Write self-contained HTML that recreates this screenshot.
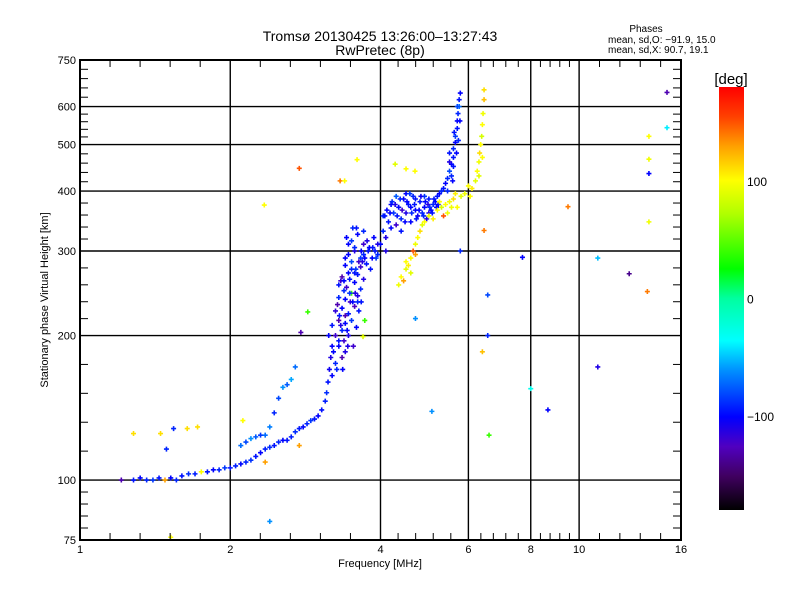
<!DOCTYPE html>
<html><head><meta charset="utf-8"><style>
html,body{margin:0;padding:0;background:#fff;}
svg text{font-family:"Liberation Sans",sans-serif;fill:#000;}
</style></head><body>
<svg id="chart" width="800" height="600" viewBox="0 0 800 600" xmlns="http://www.w3.org/2000/svg">
<defs>
<linearGradient id="cmap" x1="0" y1="1" x2="0" y2="0">
<stop offset="0" stop-color="#000000"/><stop offset="0.08" stop-color="#400060"/><stop offset="0.15" stop-color="#5000c0"/><stop offset="0.22" stop-color="#0000ff"/><stop offset="0.33" stop-color="#0090ff"/><stop offset="0.40" stop-color="#00ffff"/><stop offset="0.50" stop-color="#00ffa0"/><stop offset="0.57" stop-color="#00ff00"/><stop offset="0.70" stop-color="#b0ff00"/><stop offset="0.78" stop-color="#ffff00"/><stop offset="0.86" stop-color="#ffa000"/><stop offset="0.93" stop-color="#ff4000"/><stop offset="1" stop-color="#ff0000"/>
</linearGradient>
<clipPath id="plotclip"><rect x="80" y="60" width="601" height="480"/></clipPath>
</defs>
<g id="grid"></g>
<g id="marks" clip-path="url(#plotclip)"></g>
<g id="axes"></g>
<text x="380" y="41" font-size="14" text-anchor="middle">Tromsø 20130425 13:26:00–13:27:43</text>
<text x="380" y="55" font-size="14" text-anchor="middle">RwPretec (8p)</text>
<text x="646" y="32" font-size="10" text-anchor="middle">Phases</text>
<text x="608" y="43" font-size="10">mean, sd,O: −91.9, 15.0</text>
<text x="608" y="53" font-size="10">mean, sd,X:  90.7, 19.1</text>
<text x="380" y="567" font-size="11" text-anchor="middle">Frequency [MHz]</text>
<text x="48" y="300" font-size="11" text-anchor="middle" transform="rotate(-90 48 300)">Stationary phase Virtual Height [km]</text>
<rect x="719" y="87" width="25" height="423" fill="url(#cmap)"/>
<text x="731" y="84" font-size="15" text-anchor="middle">[deg]</text>
<g id="cbticks"></g>
</svg>
<script>
const xMajor=[1,2,4,6,8,10,16];
const xLabels=["1","2","4","6","8","10","16"];
const yMajor=[75,100,200,300,400,500,600,750];
const yLabels=["75","100","200","300","400","500","600","750"];
const cbValues=[100,0,-100];
const cbLabels=["100","0","−100"];

// Trace A: low E/F trace
const aFreq=[1.28,1.32,1.36,1.4,1.44,1.48,1.52,1.56,1.6,1.65,1.7,1.75,1.8,1.85,1.9,1.95,2.0,2.05,2.1,2.15,2.2,2.25,2.3,2.35,2.4,2.45,2.5,2.55,2.6,2.65,2.7,2.75,2.8,2.85,2.9,2.95,3.0,3.05,3.1,3.12,3.14,3.16,3.18,3.2];
const aHeight=[100,101,100,100,101,100,101,100,102,103,103,104,104,105,105,106,106,107,108,109,110,112,114,116,117,118,120,121,121,123,126,128,129,131,133,134,136,140,146,152,160,170,180,190];
const aPhase=[-95,-100,-90,-85,-95,130,-100,-90,-95,-88,-92,100,-95,-100,-90,-85,-95,-92,-98,-90,-86,-95,-100,-92,-88,-95,-90,-100,-95,-92,-88,-94,-98,-90,-85,-95,-100,-96,-92,-88,-95,-105,-110,-100];
// Trace B: upper branch
const bFreq=[2.1,2.15,2.2,2.25,2.3,2.35,2.4,2.45,2.5,2.55,2.6,2.65,2.7];
const bHeight=[118,120,122,123,124,124,129,138,148,156,158,162,172];
const bPhase=[-70,-80,-60,-75,-85,-70,-65,-90,-80,-60,-75,-55,-70];
// Cloud C
const cFreq=[3.15,3.25,3.35,3.45,3.2,3.3,3.4,3.5,3.25,3.35,3.45,3.55,3.3,3.4,3.5,3.6,3.3,3.42,3.55,3.65,3.35,3.45,3.6,3.7,3.4,3.5,3.65,3.75,3.45,3.55,3.7,3.85,3.5,3.6,3.7,3.9,3.3,3.35,3.25,3.4,3.2,3.55,3.65,3.8,3.95,3.48,3.38,3.58,3.62,3.28,3.42,3.52,3.68,3.78,3.88,3.33,3.47,3.57,
 3.22,3.3,3.38,3.27,3.36,3.44,3.31,3.4,3.52,3.6,3.38,3.47,3.56,3.66,3.4,3.5,3.62,3.72,3.82,3.55,3.66,3.76,3.86,3.92,3.45,3.58,3.7,3.33,3.43,3.53];
const cHeight=[200,200,205,200,210,215,212,215,225,228,222,230,240,238,245,242,255,252,258,250,265,270,268,262,280,285,278,282,295,300,295,290,315,325,310,300,190,180,175,185,165,270,290,305,310,235,248,208,225,232,320,335,285,300,320,260,262,275,
 185,195,195,170,170,190,220,220,235,235,260,245,245,235,290,275,285,290,275,305,300,315,305,290,310,335,330,210,205,190];
const cPhase=[-100,-120,-90,-110,-95,-130,-100,-85,-115,-100,-95,-125,-90,-100,40,-110,-95,-120,-100,-90,-130,-100,-95,-110,-100,-80,-120,-95,-100,-110,-90,-100,-85,-100,-120,-95,-100,-130,-90,-110,-100,-95,-85,-100,-110,-120,-90,-100,-95,-130,-100,-90,-110,-95,-100,-120,-95,-85,
 -100,-95,-120,-90,-100,-110,-95,-130,-100,-90,-100,-85,-110,-95,-100,-90,-120,-100,-95,-90,-100,-110,-95,-85,-100,-95,-90,-110,-100,-120];
// Band D
const dFreq=[4.0,4.05,4.1,4.15,4.2,4.25,4.3,4.35,4.4,4.45,4.5,4.55,4.6,4.65,4.7,4.75,4.8,4.85,4.9,4.95,5.0,5.05,5.1,5.15,5.2,4.3,4.5,4.1,3.95,4.6,4.4,4.9,5.25,5.3,4.2,4.7,5.0,4.05,
 4.08,4.18,4.28,4.38,4.48,4.58,4.68,4.78,4.88,4.98,5.08,5.18,4.12,4.22,4.32,4.42,4.52,4.62,4.72,4.82,4.92,5.02,5.12,5.22];
const dHeight=[310,330,320,345,335,360,340,370,350,385,360,375,345,390,365,355,380,360,370,350,385,365,375,380,390,390,395,300,295,370,330,390,395,400,375,385,360,355,
 355,360,375,385,345,395,375,365,355,375,360,370,365,380,355,365,380,360,350,390,380,370,385,375];
const dPhase=[-100,-90,-110,-95,-100,-85,-120,-100,-90,-100,-110,-95,-100,-90,-100,-105,-95,-90,-100,-110,-95,-100,-90,-100,-95,-75,-100,-110,-90,-100,-95,-85,-100,-90,-100,-95,-110,-90,
 -95,-100,-110,-90,-100,-85,-95,-100,-90,-110,-95,-100,-100,-90,-95,-120,-100,-90,-95,-105,-100,-90,-95,-100];
// Column E
const eFreq=[5.35,5.4,5.45,5.5,5.55,5.6,5.6,5.65,5.65,5.7,5.7,5.72,5.75,5.75,5.78,5.55,5.5,5.6,5.68,5.73,5.62,5.7,5.77,5.5,5.45,5.58];
const eHeight=[405,415,425,440,455,470,490,505,520,540,560,580,600,620,640,430,460,450,480,510,530,600,560,480,400,420];
const ePhase=[-95,-100,-90,-80,-100,-95,-90,-100,-85,-95,-100,-90,-70,-95,-100,-90,-110,-95,-100,-90,-95,-80,-100,-95,-90,-100];
// Trace F (X mode, yellow)
const fFreq=[4.35,4.4,4.45,4.5,4.55,4.6,4.65,4.7,4.75,4.8,4.85,4.9,5.0,5.1,5.2,5.3,5.4,5.5,5.6,5.7,5.8,5.9,6.0,6.1,6.2,6.25,6.3,6.32,6.35,6.38,6.4,6.42,6.45,6.45,4.5,4.6,4.7,5.25,5.45,5.65,6.05,6.3,6.4,5.35,5.55];
const fHeight=[255,265,260,275,280,290,300,310,320,330,340,345,355,350,365,370,375,380,385,370,390,395,410,405,420,440,460,480,500,520,550,580,620,650,285,270,295,380,360,395,390,430,470,355,370];
const fPhase=[95,100,130,90,105,100,150,95,100,110,90,100,95,105,100,85,100,95,110,100,90,95,100,105,90,100,95,110,100,85,100,95,120,110,100,90,130,100,95,105,100,90,100,150,95];
// Outliers G
const gFreq=[1.28,1.45,1.64,1.72,1.54,1.49,2.35,2.4,2.75,2.12,2.75,2.34,2.77,2.86,3.59,3.32,3.39,4.28,4.69,6.45,6.56,6.56,6.4,6.6,5.07,5.78,4.7,8.0,7.7,8.66,9.5,10.9,10.9,12.6,13.7,13.8,13.8,13.8,15.0,15.0,13.8,1.21,3.69,3.72,4.5,1.52];
const gHeight=[125,125,128,129,128,116,109,82,118,133,446,374,203,224,465,420,420,455,440,331,243,200,185,124,139,300,217,155,291,140,371,290,172,269,247,345,466,520,542,642,435,100,199,215,445,76];
const gPhase=[110,110,110,110,-90,-90,130,-60,130,100,150,100,-130,40,100,140,100,90,100,140,-80,-90,120,40,-60,-90,-60,-30,-100,-100,140,-50,-110,-140,140,95,95,100,-40,-130,-100,-130,90,40,100,100];

const X0=80,X1=681,Y0=60,Y1=540;
function xs(f){return X0+(X1-X0)*Math.log(f)/Math.log(16);}
function ys(h){return Y1-(Y1-Y0)*Math.log10(h/75);}
const stops=[[-180,[0,0,0]],[-152,[64,0,96]],[-126,[80,0,192]],[-100,[0,0,255]],[-60,[0,144,255]],[-36,[0,255,255]],[0,[0,255,160]],[25,[0,255,0]],[72,[176,255,0]],[100,[255,255,0]],[130,[255,160,0]],[155,[255,64,0]],[180,[255,0,0]]];
function pcol(p){
  if(p<=-180)return 'rgb(0,0,0)';
  for(let i=1;i<stops.length;i++){
    if(p<=stops[i][0]){const a=stops[i-1],b=stops[i];const t=(p-a[0])/(b[0]-a[0]);
      const c=a[1].map((v,k)=>Math.round(v+(b[1][k]-v)*t));return 'rgb('+c.join(',')+')';}
  }
  return 'rgb(255,0,0)';
}
const NS='http://www.w3.org/2000/svg';
function mk(tag,attrs,parent){const e=document.createElementNS(NS,tag);for(const k in attrs)e.setAttribute(k,attrs[k]);parent.appendChild(e);return e;}
const grid=document.getElementById('grid'),axes=document.getElementById('axes'),marks=document.getElementById('marks'),cbt=document.getElementById('cbticks');

xMajor.forEach(v=>{if(v>1&&v<16){const l=mk('line',{x1:xs(v),x2:xs(v),y1:Y0,y2:Y1,stroke:'#000','stroke-width':1.4},grid);

}});
yMajor.forEach(v=>{if(v>75&&v<750){const l=mk('line',{x1:X0,x2:X1,y1:ys(v),y2:ys(v),stroke:'#000','stroke-width':1.4},grid);

}});
const fr=mk('rect',{x:X0,y:Y0,width:X1-X0,height:Y1-Y0,fill:'none',stroke:'#000','stroke-width':2},axes);


for(let i=0;i<xMajor.length-1;i++){const a=xs(xMajor[i]),b=xs(xMajor[i+1]);
  for(let k=1;k<5;k++){const x=a+(b-a)*k/5;
    mk('line',{x1:x,x2:x,y1:Y0,y2:Y0+7,stroke:'#000','stroke-width':1},axes);
    mk('line',{x1:x,x2:x,y1:Y1,y2:Y1-7,stroke:'#000','stroke-width':1},axes);}}
for(let i=0;i<yMajor.length-1;i++){const a=ys(yMajor[i]),b=ys(yMajor[i+1]);
  for(let k=1;k<5;k++){const y=a+(b-a)*k/5;
    mk('line',{x1:X0,x2:X0+8,y1:y,y2:y,stroke:'#000','stroke-width':1},axes);
    mk('line',{x1:X1,x2:X1-8,y1:y,y2:y,stroke:'#000','stroke-width':1},axes);}}
xMajor.forEach((v,i)=>{const t=mk('text',{x:xs(v),y:553,'font-size':11,'text-anchor':'middle'},axes);t.textContent=xLabels[i];

});
yMajor.forEach((v,i)=>{const t=mk('text',{x:76,y:ys(v)+4,'font-size':11,'text-anchor':'end'},axes);t.textContent=yLabels[i];

});
cbValues.forEach((v,i)=>{const y=298.5-v*1.175;const t=mk('text',{x:747,y:y+5,'font-size':12},cbt);t.textContent=cbLabels[i];

});
function plot(F,H,P,name){
  for(let i=0;i<F.length;i++){
    const x=xs(F[i]),y=ys(H[i]),c=pcol(P[i]===undefined?-90:P[i]);
    const p=mk('path',{d:'M'+(x-2.5)+' '+y+'h5M'+x+' '+(y-2.5)+'v5',stroke:c,'stroke-width':1.6,fill:'none'},marks);
    
    
  }
}
plot(aFreq,aHeight,aPhase,'trace-a-point');
plot(bFreq,bHeight,bPhase,'trace-b-point');
plot(cFreq,cHeight,cPhase,'cloud-point');
plot(dFreq,dHeight,dPhase,'band-point');
plot(eFreq,eHeight,ePhase,'column-point');
plot(fFreq,fHeight,fPhase,'x-mode-point');
plot(gFreq,gHeight,gPhase,'outlier-point');
</script>
</body></html>
